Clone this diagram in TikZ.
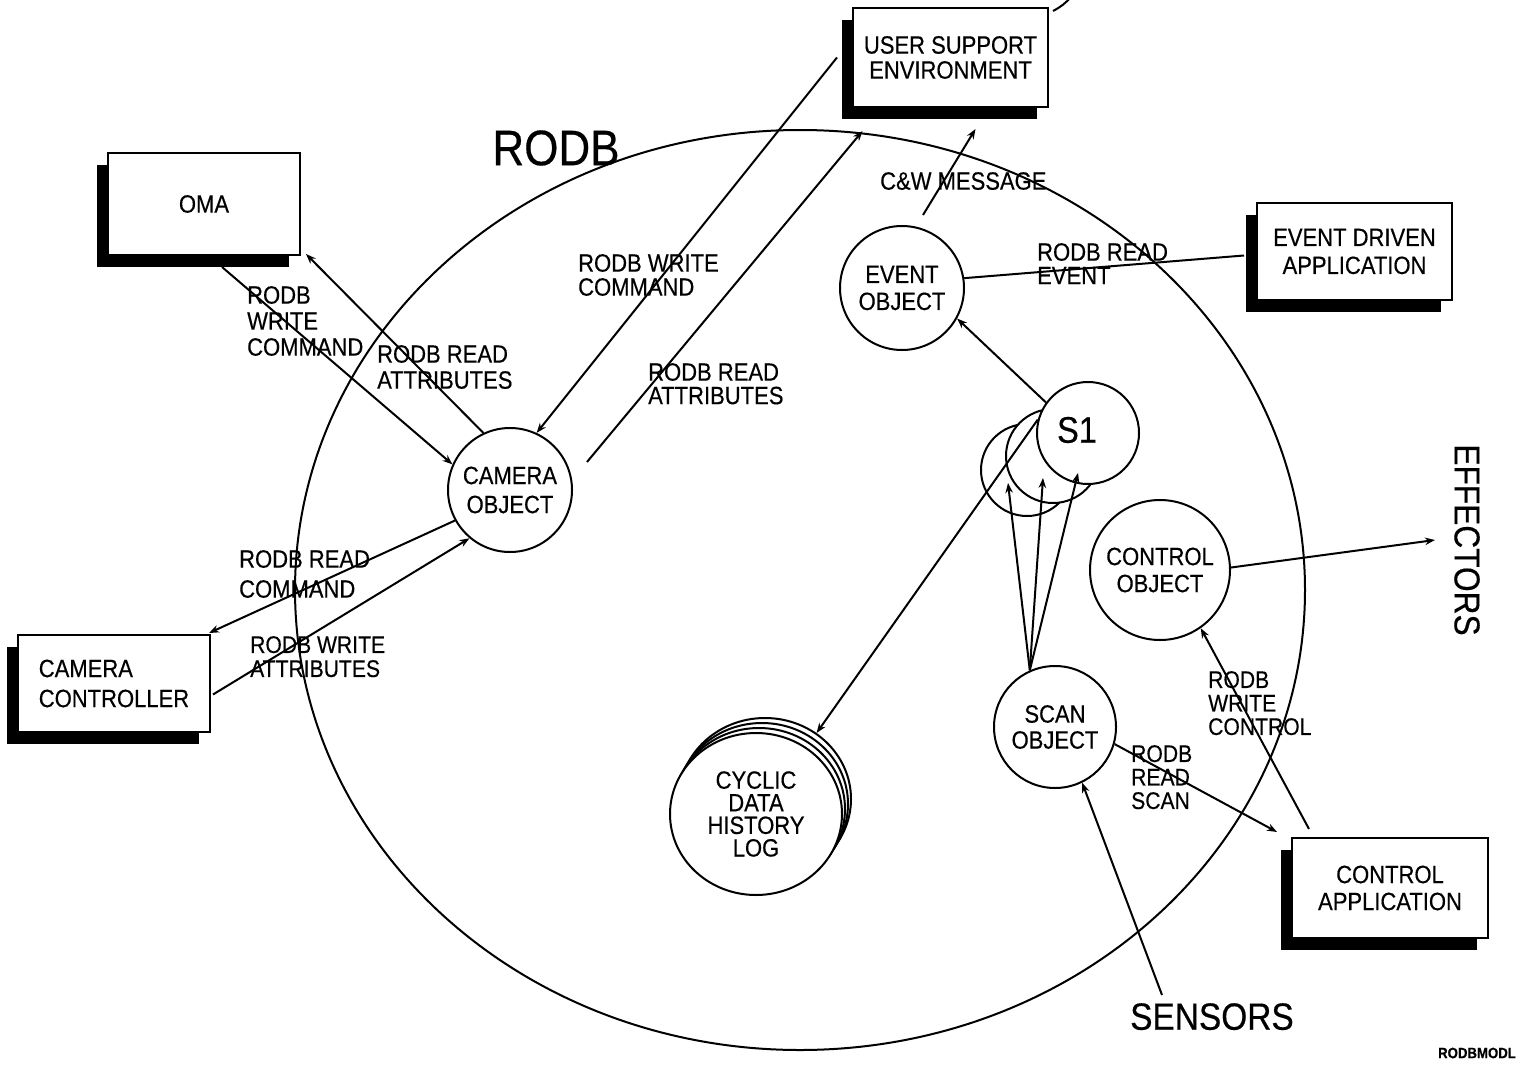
\documentclass[tikz,border=0pt]{standalone}
\usepackage{fontspec}
\setmainfont[FakeStretch=0.88,FakeBold=0.4]{Liberation Sans}
\usetikzlibrary{shapes.geometric,arrows.meta,shadows,calc}
\begin{document}
\begin{tikzpicture}[x=1pt,y=-1pt,
  every node/.style={inner sep=0pt},
  lbl/.style={font=\fontsize{25}{#1}\selectfont, align=left, anchor=north west},
  lbls/.style={font=\fontsize{24}{#1}\selectfont, align=left, anchor=north west},
  obj/.style={circle, draw, line width=2pt, fill=white, align=center},
  logc/.style={ellipse, draw, line width=2pt, fill=white, minimum width=172pt, minimum height=162pt, align=center},
  appbox/.style={rectangle, draw, line width=2pt, fill=white, align=center,
     drop shadow={shadow xshift=-11pt, shadow yshift=-12pt, fill=black, opacity=1}},
  conn/.style={line width=2pt},
  arr/.style={conn, -{Stealth[length=10pt,width=7.5pt]}},
]
\useasboundingbox (0,0) rectangle (1526,1065);

% RODB region
\node[ellipse, draw, line width=2pt, minimum width=1010pt, minimum height=920pt] (rodb) at (800,590) {};
\node[font=\fontsize{50}{50}\selectfont] (title) at (556,148) {RODB};

% boxes
\node[appbox, minimum width=192pt, minimum height=102pt, font=\fontsize{25}{28}\selectfont] (oma) at (204,204) {OMA};
\node[appbox, minimum width=195pt, minimum height=99pt, font=\fontsize{25}{25}\selectfont] (user) at (950.5,57.5) {USER SUPPORT\\ENVIRONMENT};
\node[appbox, minimum width=192pt, minimum height=97pt, font=\fontsize{25}{30}\selectfont, align=left] (cc) at (114,683.5) {CAMERA\\CONTROLLER};
\node[appbox, minimum width=195pt, minimum height=97pt, font=\fontsize{25}{28}\selectfont] (evd) at (1354.5,251.5) {EVENT DRIVEN\\APPLICATION};
\node[appbox, minimum width=196pt, minimum height=100pt, font=\fontsize{25}{27}\selectfont] (capp) at (1390,888) {CONTROL\\APPLICATION};

% objects
\node[obj, minimum size=124pt, font=\fontsize{25}{29}\selectfont] (camera) at (510,490) {CAMERA\\OBJECT};
\node[obj, minimum size=124pt, font=\fontsize{25}{27}\selectfont] (event) at (902,288) {EVENT\\OBJECT};
\node[obj, minimum size=140pt, font=\fontsize{25}{27}\selectfont] (ctrl) at (1160,570) {CONTROL\\OBJECT};
\node[obj, minimum size=122pt, font=\fontsize{25}{26}\selectfont] (scan) at (1055,727) {SCAN\\OBJECT};
\node[obj, minimum size=92pt] (s1c) at (1027,470) {};
\node[obj, minimum size=94pt] (s1b) at (1053,456) {};
\node[obj, minimum size=102pt] (s1) at (1088,433) {};
\node[font=\fontsize{37}{37}\selectfont] (s1t) at (1077,430) {S1};

% cyclic log stack
\node[logc] (log3) at (765,799) {};
\node[logc] (log2) at (762,804) {};
\node[logc] (log1) at (759,809) {};
\node[logc, font=\fontsize{25}{22.6}\selectfont] (log0) at (756,814) {CYCLIC\\DATA\\HISTORY\\LOG};

% external texts
\node[font=\fontsize{36}{36}\selectfont, rotate=-90] (effl) at (1467,540) {EFFECTORS};
\coordinate (eff) at (1435,540);
\node[font=\fontsize{38}{38}\selectfont, anchor=north west] (sensors) at (1130,1003) {SENSORS};
\node[font=\bfseries\fontsize{15}{15}\selectfont] (code) at (1477,1053) {RODBMODL};

% connectors
\draw[arr] ([shift={(18,11)}]oma.south) -- (camera.156);
\draw[arr] (camera.115) -- ([shift={(5,-2)}]oma.south east);
\draw[arr] ([xshift=-15pt]user.west) -- (camera.65);
\draw[arr] ([shift={(77,-28)}]camera.center) -- ([shift={(-88,23)}]user.south);
\draw[arr] (camera.209) -- ([shift={(-2,-1)}]cc.north east);
\draw[arr] ([shift={(2,11)}]cc.east) -- (camera.230);
\draw[arr] ([shift={(21,-73)}]event.center) -- ([shift={(25,21)}]user.south);
\draw[conn] ([shift={(-12,4)}]evd.west) -- (event.9);
\draw[arr] (s1.144) -- (event.331);
\draw[arr] (s1.165) -- (log3.52);
\draw[arr] (scan.114) -- ([shift={(-19,13)}]s1c.center);
\draw[arr] (scan.114) -- ([shift={(-10,22)}]s1b.center);
\draw[arr] (scan.114) -- ([shift={(-10,40)}]s1.center);
\draw[arr] (ctrl.2) -- (eff);
\draw[arr] ([shift={(18,-8)}]capp.north west) -- (ctrl.305);
\draw[arr] (scan.344) -- ([shift={(-14,-5)}]capp.north west);
\draw[arr] ([shift={(32,-8)}]sensors.north west) -- (scan.296);
\draw[conn] ([shift={(4,4)}]user.north east) to[bend right=10] ([shift={(22,-10)}]user.north east);

% labels
\node[lbl=26] (l1) at (247,286) {RODB\\WRITE\\COMMAND};
\node[lbl=26] (l2) at (377,345) {RODB READ\\ATTRIBUTES};
\node[lbl=24] (l3) at (578,254) {RODB WRITE\\COMMAND};
\node[lbl=23.5] (l4) at (648,363) {RODB READ\\ATTRIBUTES};
\node[lbl=24] (l5) at (880,172) {C\&W MESSAGE};
\node[lbl=23.5] (l6) at (1037,243) {RODB READ\\EVENT};
\node[lbl=30] (l7) at (239,550) {RODB READ\\COMMAND};
\node[lbls=24] (l8) at (250,636) {RODB WRITE\\ATTRIBUTES};
\node[lbls=23.5] (l9) at (1208,671) {RODB\\WRITE\\CONTROL};
\node[lbls=23.5] (l10) at (1131,745) {RODB\\READ\\SCAN};
\end{tikzpicture}
\end{document}
